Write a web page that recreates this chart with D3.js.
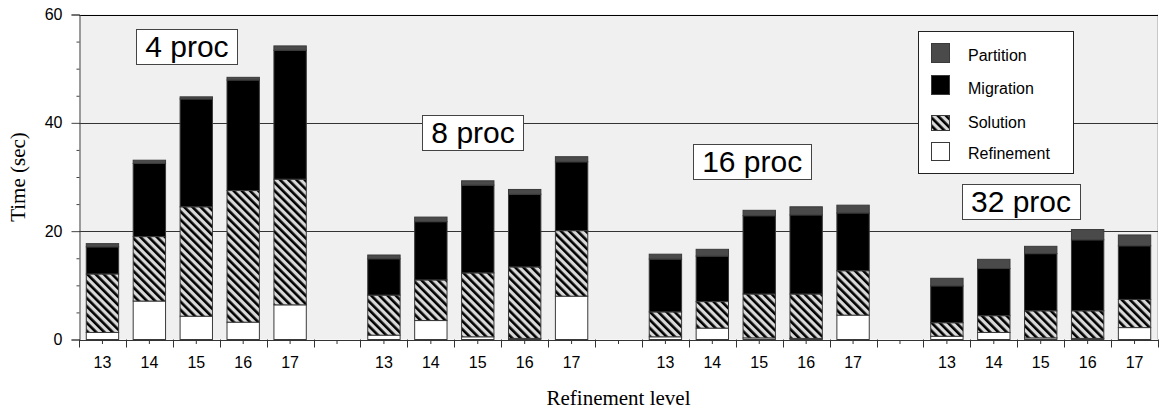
<!DOCTYPE html>
<html>
<head>
<meta charset="utf-8">
<script src="https://cdn.jsdelivr.net/npm/d3@7"></script>
<style>
  html, body { margin: 0; padding: 0; background: #fff; }
  svg { display: block; }
</style>
</head>
<body>
<svg id="chart" width="1159" height="413"></svg>
<script>
// Processor counts (groups) and refinement levels (bars within a group)
const procs = [4, 8, 16, 32];
const levels = [13, 14, 15, 16, 17];
const yTicks = [0, 20, 40, 60];

// Time (sec) per phase, one row per processor count, one value per level
const refinement = [
  [1.3, 7.1, 4.3, 3.2, 6.4],
  [0.8, 3.5, 0.5, 0.2, 8.0],
  [0.5, 2.1, 0.3, 0.2, 4.5],
  [0.6, 1.3, 0.3, 0.2, 2.2]
];
const solution = [
  [10.8, 11.9, 20.2, 24.3, 23.2],
  [7.4, 7.5, 11.8, 13.2, 12.1],
  [4.6, 4.9, 8.1, 8.2, 8.2],
  [2.5, 3.1, 5.0, 5.1, 5.2]
];
const migration = [
  [5.0, 13.5, 19.9, 20.4, 23.8],
  [6.7, 10.75, 16.2, 13.4, 12.7],
  [9.75, 8.4, 14.45, 14.6, 10.65],
  [6.8, 8.7, 10.55, 13.1, 9.9]
];
const partition = [
  [0.6, 0.6, 0.4, 0.5, 0.8],
  [0.7, 0.85, 0.8, 0.9, 0.95],
  [0.9, 1.25, 1.0, 1.5, 1.45],
  [1.4, 1.7, 1.35, 1.9, 2.0]
];
const phases = ["Refinement", "Solution", "Migration", "Partition"];
const phaseValues = { Refinement: refinement, Solution: solution, Migration: migration, Partition: partition };

// Build rows and x slots (one empty slot between processor groups)
const rows = [];
const slots = [];
procs.forEach((p, gi) => {
  levels.forEach((lv, li) => {
    const key = p + "-" + lv;
    slots.push(key);
    const row = { key, proc: p, level: lv };
    phases.forEach(ph => row[ph] = phaseValues[ph][gi][li]);
    rows.push(row);
  });
  if (gi < procs.length - 1) slots.push("gap" + gi);
});

const svg = d3.select("#chart");
const plotLeft = 79, plotRight = 1158, plotTop = 14.5, plotBottom = 339.5;

const x = d3.scaleBand().domain(slots).range([plotLeft, plotRight]).padding(0);
const y = d3.scaleLinear().domain([0, 60]).range([plotBottom, plotTop]);

const fills = { Refinement: "#ffffff", Solution: "url(#hatch)", Migration: "#000000", Partition: "#4a4a4a" };

// Hatch pattern for the Solution phase
const defs = svg.append("defs");
const pat = defs.append("pattern")
  .attr("id", "hatch")
  .attr("patternUnits", "userSpaceOnUse")
  .attr("width", 5.8).attr("height", 5.8)
  .attr("patternTransform", "rotate(-45)");
pat.append("rect").attr("width", 5.8).attr("height", 5.8).attr("fill", "#d9d9d9");
pat.append("rect").attr("width", 2.6).attr("height", 5.8).attr("fill", "#000");

// Plot background
svg.append("rect")
  .attr("x", plotLeft).attr("y", plotTop)
  .attr("width", plotRight - plotLeft).attr("height", plotBottom - plotTop)
  .attr("fill", "#f0f0f0");
svg.append("line")
  .attr("x1", plotRight - 0.5).attr("x2", plotRight - 0.5)
  .attr("y1", plotTop).attr("y2", plotBottom)
  .attr("stroke", "#c8c8c8");

// Horizontal gridlines
svg.append("g").selectAll("line")
  .data(yTicks.filter(v => v > 0))
  .join("line")
  .attr("x1", plotLeft).attr("x2", plotRight)
  .attr("y1", d => Math.round(y(d)) + 0.5).attr("y2", d => Math.round(y(d)) + 0.5)
  .attr("stroke", d => d === 60 ? "#000" : "#333")
  .attr("stroke-width", 1);

// Stacked bars
const stacked = d3.stack().keys(phases)(rows);
const barW = x.bandwidth() * 0.69;
const barOff = (x.bandwidth() - barW) / 2;

svg.append("g").selectAll("g")
  .data(stacked)
  .join("g")
  .attr("fill", d => fills[d.key])
  .selectAll("rect")
  .data(d => d)
  .join("rect")
  .attr("x", d => x(d.data.key) + barOff)
  .attr("y", d => y(d[1]))
  .attr("width", barW)
  .attr("height", d => y(d[0]) - y(d[1]))
  .attr("stroke", "#3a3a3a")
  .attr("stroke-width", 1);

// Y axis: major ticks with labels, minor ticks every 5
const yAxis = svg.append("g")
  .attr("transform", `translate(${plotLeft + 0.5},0)`)
  .call(d3.axisLeft(y).tickValues(yTicks).tickSize(8).tickPadding(9));
yAxis.select(".domain").attr("stroke", "#444");
yAxis.selectAll(".tick line").attr("stroke", "#444");
yAxis.selectAll("text").attr("font-family", "Arial, 'Liberation Sans', sans-serif")
  .attr("font-size", 16).attr("fill", "#000");

const yMinor = svg.append("g")
  .attr("transform", `translate(${plotLeft + 0.5},0)`)
  .call(d3.axisLeft(y).tickValues(d3.range(5, 60, 5).filter(v => v % 20 !== 0)).tickSize(3).tickFormat(""));
yMinor.select(".domain").remove();
yMinor.selectAll(".tick line").attr("stroke", "#444");

// X axis: short ticks at slot centres with level labels, long ticks at slot boundaries
const xAxis = svg.append("g")
  .attr("transform", `translate(0,${plotBottom + 0.5})`)
  .call(d3.axisBottom(x).tickSize(4).tickPadding(13)
    .tickFormat(d => d.startsWith("gap") ? "" : d.split("-")[1]));
xAxis.select(".domain").attr("stroke", "#333");
xAxis.selectAll(".tick line").attr("stroke", "#333");
xAxis.selectAll("text").attr("font-family", "Arial, 'Liberation Sans', sans-serif")
  .attr("font-size", 16).attr("fill", "#000");

const boundaries = slots.map(s => x(s)).concat([plotRight]);
svg.append("g").selectAll("line")
  .data(boundaries)
  .join("line")
  .attr("x1", d => Math.round(d) + 0.5).attr("x2", d => Math.round(d) + 0.5)
  .attr("y1", plotBottom).attr("y2", plotBottom + 8)
  .attr("stroke", "#333");

// Axis titles
svg.append("text")
  .attr("transform", `translate(25,${(plotTop + plotBottom) / 2}) rotate(-90)`)
  .attr("text-anchor", "middle")
  .attr("font-family", "'Liberation Serif', 'Times New Roman', serif")
  .attr("font-size", 21)
  .text("Time (sec)");
svg.append("text")
  .attr("x", (plotLeft + plotRight) / 2).attr("y", 405)
  .attr("text-anchor", "middle")
  .attr("font-family", "'Liberation Serif', 'Times New Roman', serif")
  .attr("font-size", 21)
  .text("Refinement level");

// Processor-count annotations
const annots = [
  { text: "4 proc", slot: 2.3, val: 54.1 },
  { text: "8 proc", slot: 8.4, val: 38.3 },
  { text: "16 proc", slot: 14.35, val: 32.8 },
  { text: "32 proc", slot: 20.08, val: 25.4 }
];
annots.forEach(a => {
  const cx = plotLeft + a.slot * x.bandwidth();
  const cy = y(a.val);
  const g = svg.append("g");
  const box = g.append("rect");
  const t = g.append("text")
    .attr("x", cx).attr("y", cy)
    .attr("text-anchor", "middle")
    .attr("dominant-baseline", "central")
    .attr("font-family", "Arial, 'Liberation Sans', sans-serif")
    .attr("font-size", 30)
    .text(a.text);
  const w = t.node().getComputedTextLength() + 18;
  box.attr("x", Math.round(cx - w / 2) + 0.5).attr("y", Math.round(cy - 17.5) + 0.5)
    .attr("width", Math.round(w)).attr("height", 35)
    .attr("fill", "#fff").attr("stroke", "#444");
});

// Legend
const legendItems = [
  { key: "Partition", sy: 43, sh: 19, ty: 55 },
  { key: "Migration", sy: 75, sh: 19, ty: 88 },
  { key: "Solution", sy: 115, sh: 15, ty: 122 },
  { key: "Refinement", sy: 142, sh: 18, ty: 153 }
];
const lg = svg.append("g");
lg.append("rect")
  .attr("x", 918.5).attr("y", 31.5).attr("width", 155).attr("height", 142)
  .attr("fill", "#fff").attr("stroke", "#222");
lg.selectAll("rect.sw")
  .data(legendItems)
  .join("rect")
  .attr("class", "sw")
  .attr("x", 931.5).attr("y", d => d.sy + 0.5)
  .attr("width", 18).attr("height", d => d.sh)
  .attr("fill", d => fills[d.key])
  .attr("stroke", "#3a3a3a");
lg.selectAll("text")
  .data(legendItems)
  .join("text")
  .attr("x", 968).attr("y", d => d.ty)
  .attr("dominant-baseline", "central")
  .attr("font-family", "Arial, 'Liberation Sans', sans-serif")
  .attr("font-size", 16)
  .text(d => d.key);
</script>
</body>
</html>
